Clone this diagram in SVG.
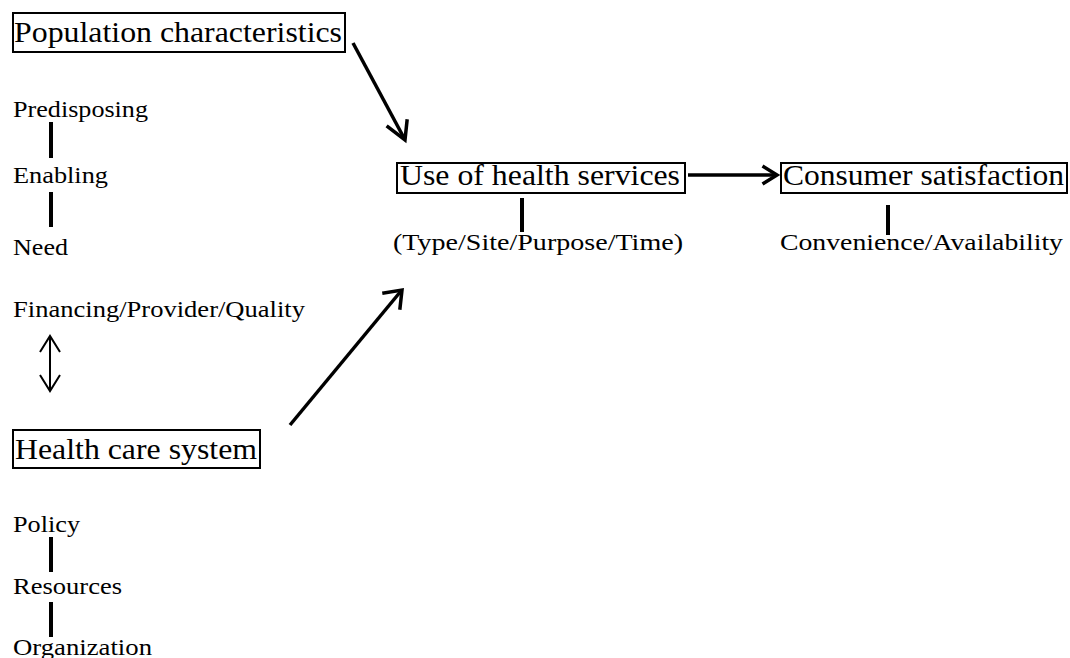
<svg xmlns="http://www.w3.org/2000/svg" width="1070" height="658" viewBox="0 0 1070 658">
  <style>
    .box { fill: none; stroke: #000; stroke-width: 2; }
    .big { font-family: "Liberation Serif", "Times New Roman", serif; font-size: 29px; fill: #000; }
    .small { font-family: "Liberation Serif", "Times New Roman", serif; font-size: 23px; fill: #000; }
    .bar { stroke: #000; stroke-width: 4; }
    .arrow { stroke: #000; stroke-width: 3.5; fill: none; }
    .head { stroke: #000; stroke-width: 3.5; fill: none; stroke-linecap: square; }
    .thin { stroke: #000; stroke-width: 2; fill: none; }
  </style>
  <rect width="1070" height="658" fill="#fff"/>

  <g id="population">
    <rect class="box" x="13" y="13" width="332" height="39"/>
    <text class="big" x="14" y="42" textLength="328" lengthAdjust="spacingAndGlyphs">Population characteristics</text>
    <text class="small" x="13" y="117" textLength="135" lengthAdjust="spacingAndGlyphs">Predisposing</text>
    <line class="bar" x1="51" y1="122" x2="51" y2="158"/>
    <text class="small" x="13" y="183" textLength="95" lengthAdjust="spacingAndGlyphs">Enabling</text>
    <line class="bar" x1="51" y1="192" x2="51" y2="227"/>
    <text class="small" x="13" y="255" textLength="55" lengthAdjust="spacingAndGlyphs">Need</text>
  </g>

  <g id="health-system">
    <text class="small" x="13" y="317" textLength="292" lengthAdjust="spacingAndGlyphs">Financing/Provider/Quality</text>
    <rect class="box" x="13" y="430" width="247" height="38"/>
    <text class="big" x="15" y="459" textLength="242" lengthAdjust="spacingAndGlyphs">Health care system</text>
    <text class="small" x="13" y="532" textLength="67" lengthAdjust="spacingAndGlyphs">Policy</text>
    <line class="bar" x1="51" y1="537" x2="51" y2="572"/>
    <text class="small" x="13" y="594" textLength="109" lengthAdjust="spacingAndGlyphs">Resources</text>
    <line class="bar" x1="51" y1="602" x2="51" y2="637"/>
    <text class="small" x="13" y="655" textLength="139" lengthAdjust="spacingAndGlyphs">Organization</text>
  </g>

  <g id="use">
    <rect class="box" x="397" y="163" width="288" height="30"/>
    <text class="big" x="400" y="185" textLength="280" lengthAdjust="spacingAndGlyphs">Use of health services</text>
    <line class="bar" x1="522" y1="198" x2="522" y2="232"/>
    <text class="small" x="393" y="250" textLength="290" lengthAdjust="spacingAndGlyphs">(Type/Site/Purpose/Time)</text>
  </g>

  <g id="satisfaction">
    <rect class="box" x="781" y="163" width="286" height="30"/>
    <text class="big" x="783" y="185" textLength="281" lengthAdjust="spacingAndGlyphs">Consumer satisfaction</text>
    <line class="bar" x1="888" y1="205" x2="888" y2="235"/>
    <text class="small" x="780" y="250" textLength="283" lengthAdjust="spacingAndGlyphs">Convenience/Availability</text>
  </g>

  <g id="connectors">
    <!-- population -> use -->
    <line class="arrow" x1="353" y1="43" x2="404" y2="138"/>
    <polyline class="head" points="388,127 405,140 407,121"/>
    <!-- use -> satisfaction -->
    <line class="arrow" x1="688" y1="175" x2="775" y2="175"/>
    <polyline class="head" points="764,167 777,175 764,183"/>
    <!-- health care system -> use -->
    <line class="arrow" x1="290" y1="425" x2="401" y2="291"/>
    <polyline class="head" points="384,293 402,290 400,308"/>
    <!-- financing <-> health care system -->
    <line class="thin" x1="50" y1="336" x2="50" y2="391"/>
    <polyline class="thin" points="40,352 50,336 60,352"/>
    <polyline class="thin" points="40,375 50,391 60,375"/>
  </g>
</svg>
